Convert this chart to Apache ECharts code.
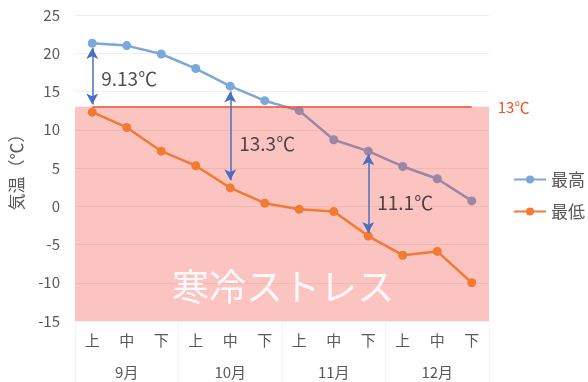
<!DOCTYPE html>
<html><head><meta charset="utf-8">
<script src="https://cdn.jsdelivr.net/npm/echarts@6/dist/echarts.min.js"></script>
<style>html,body{margin:0;padding:0;background:#fff}#c{width:588px;height:382px}</style>
</head><body><div id="c"></div>
<script>
const categories = ['上','中','下','上','中','下','上','中','下','上','中','下'];
const months = ['9月','10月','11月','12月'];
const yTicks = [-15, 25, 5]; // min, max, interval
const maxTemp = [21.3, 21.0, 19.9, 18.0, 15.7, 13.8, 12.5, 8.7, 7.2, 5.2, 3.6, 0.7];
const minTemp = [12.3, 10.3, 7.2, 5.3, 2.4, 0.4, -0.4, -0.7, -3.9, -6.4, -5.9, -10.0];
const threshold = 13;
const thresholdText = '13℃';
const arrowIdx = [0, 4, 8];
const arrowTop = [20.7, 15.0, 6.8];
const arrowBottom = [13.3, 3.4, -3.5];
const annoText = ['9.13℃', '13.3℃', '11.1℃'];
const annoY = [16.7, 8.2, 0.4];
const stressText = '寒冷ストレス';

const FONT = '"Noto Sans CJK JP", "Noto Sans", sans-serif';
const chart = echarts.init(document.getElementById('c'));
chart.setOption({
  animation: false,
  textStyle: { fontFamily: FONT },
  grid: { left: 75, right: 99, top: 15, bottom: 61 },
  legend: {
    data: ['最高', '最低'],
    orient: 'vertical',
    left: 508, top: 166,
    itemWidth: 32, itemHeight: 10, itemGap: 15,
    textStyle: { fontSize: 17, color: '#595959', fontFamily: FONT }
  },
  xAxis: [{
    type: 'category', data: categories, boundaryGap: true,
    axisLine: { show: false }, axisTick: { show: false },
    axisLabel: { fontSize: 15, color: '#595959', margin: 12 }
  }, {
    type: 'category', data: months, position: 'bottom', boundaryGap: true,
    axisLine: { show: false },
    axisTick: { show: true, length: 61, lineStyle: { color: '#f4f4f4' } },
    axisLabel: { fontSize: 15, color: '#595959', margin: 44 }
  }],
  yAxis: {
    type: 'value', min: yTicks[0], max: yTicks[1], interval: yTicks[2],
    name: '気温（℃）', nameLocation: 'middle', nameGap: 50, nameRotate: 90,
    nameTextStyle: { fontSize: 17, color: '#595959' },
    axisLine: { show: false }, axisTick: { show: false },
    axisLabel: { fontSize: 15, color: '#595959', margin: 15 },
    splitLine: { lineStyle: { color: '#eeeeee' } }
  },
  graphic: [{
    type: 'text', left: 172, top: 268, z: 10,
    style: { text: stressText, fontSize: 37, fill: 'rgba(255,255,255,0.9)', fontFamily: FONT }
  }],
  series: [{
    name: '最高', type: 'line', data: maxTemp, z: 2,
    symbol: 'circle', symbolSize: 9,
    lineStyle: { width: 2.5, color: '#7ba7d9' },
    itemStyle: { color: '#7ba7d9' }
  }, {
    name: 'area', type: 'line', data: [], z: 3,
    markArea: {
      silent: true, z: 3,
      itemStyle: { color: 'rgba(240,52,42,0.29)' },
      data: [[{ yAxis: threshold }, { yAxis: yTicks[0] }]]
    }
  }, {
    name: '最低', type: 'line', data: minTemp, z: 4,
    symbol: 'circle', symbolSize: 9,
    lineStyle: { width: 2.5, color: '#f27a33' },
    itemStyle: { color: '#f27a33' },
    markLine: {
      silent: true, z: 5, symbol: ['none', 'none'],
      lineStyle: { color: '#f0502a', width: 1.5, type: 'solid' },
      label: { show: true, position: 'end', distance: 26, formatter: thresholdText,
               color: '#f0502a', fontSize: 15 },
      data: [[{ coord: [0, threshold] }, { coord: [categories.length - 1, threshold] }]]
    }
  }, {
    name: 'arrows', type: 'line', data: [], z: 6,
    markLine: {
      silent: true, z: 6, symbol: ['arrow', 'arrow'], symbolSize: [9, 11],
      lineStyle: { color: '#4a6fc0', width: 1.5, type: 'solid' },
      label: { show: false },
      data: arrowIdx.map((ix, k) => [{ coord: [ix, arrowTop[k]] }, { coord: [ix, arrowBottom[k]] }])
    }
  }, {
    name: 'notes', type: 'scatter', z: 7, symbol: 'circle', symbolSize: 0,
    itemStyle: { color: 'rgba(0,0,0,0)' },
    data: arrowIdx.map((ix, k) => ({ value: [ix, annoY[k]], text: annoText[k] })),
    label: {
      show: true, position: 'right', distance: 9,
      formatter: p => p.data.text, fontSize: 19, color: '#222222'
    }
  }]
});
</script></body></html>
